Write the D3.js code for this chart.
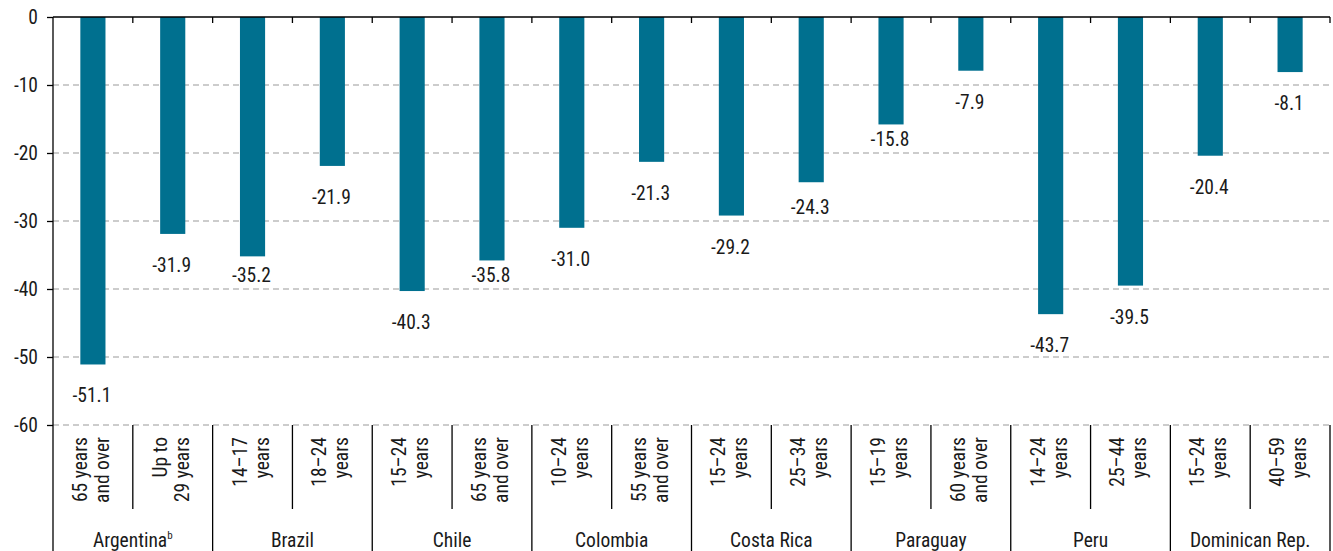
<!DOCTYPE html>
<html>
<head>
<meta charset="utf-8">
<script src="https://cdn.jsdelivr.net/npm/d3@7"></script>
<style>
  html, body { margin: 0; padding: 0; background: #fff; }
  svg text { font-family: "Roboto", "Liberation Sans", sans-serif; font-stretch: 75%; fill: #1a1a1a; }
</style>
</head>
<body>
<svg id="chart" width="1333" height="551"></svg>
<script>
const groups = ["Argentina", "Brazil", "Chile", "Colombia", "Costa Rica", "Paraguay", "Peru", "Dominican Rep."];
const groupNotes = ["b", "", "", "", "", "", "", ""];
const categories = [
  ["65 years", "and over"], ["Up to", "29 years"],
  ["14–17", "years"], ["18–24", "years"],
  ["15–24", "years"], ["65 years", "and over"],
  ["10–24", "years"], ["55 years", "and over"],
  ["15–24", "years"], ["25–34", "years"],
  ["15–19", "years"], ["60 years", "and over"],
  ["14–24", "years"], ["25–44", "years"],
  ["15–24", "years"], ["40–59", "years"]
];
const values = [-51.1, -31.9, -35.2, -21.9, -40.3, -35.8, -31.0, -21.3, -29.2, -24.3, -15.8, -7.9, -43.7, -39.5, -20.4, -8.1];
const yTicks = [0, -10, -20, -30, -40, -50, -60];

(function () {
const svg = d3.select("#chart");
const mLeft = 53, mRight = 1330, mTop = 17, mBottom = 425;
const fs = 19.5;
const fmt = v => (v < 0 ? "-" : "") + Math.abs(v).toFixed(1);
const fmtTick = v => (v < 0 ? "-" : "") + Math.abs(v);

const idx = d3.range(values.length);
const x = d3.scaleBand().domain(idx).range([mLeft, mRight]).paddingInner(0.685).paddingOuter(0.3425);
const slot = d3.scaleBand().domain(idx).range([mLeft, mRight]).padding(0);
const gx = d3.scaleBand().domain(d3.range(groups.length)).range([mLeft, mRight]).padding(0);
const y = d3.scaleLinear().domain([-60, 0]).range([mBottom, mTop]);

// gridlines
const gridVals = yTicks.filter(t => t !== 0);
svg.append("g").selectAll("line").data(gridVals).join("line")
  .attr("x1", mLeft).attr("x2", mRight)
  .attr("y1", d => y(d)).attr("y2", d => y(d))
  .attr("stroke", "#9a9a9a").attr("stroke-width", 1.2).attr("stroke-dasharray", "6,4");

// bars
svg.append("g").selectAll("rect").data(idx).join("rect")
  .attr("x", i => x(i)).attr("width", x.bandwidth())
  .attr("y", y(0)).attr("height", i => y(values[i]) - y(0))
  .attr("fill", "#00708f");

// value labels: placed below bar end, nudged up when they would cross a gridline
function labelY(v) {
  let b = y(v) + 38;
  for (const g of gridVals) {
    const gy = y(g);
    if (gy > b - 15 && gy < b + 3) b = gy - 7;
  }
  return b;
}
svg.append("g").selectAll("text").data(idx).join("text")
  .attr("x", i => x(i) + x.bandwidth() / 2 - 1)
  .attr("y", i => labelY(values[i]))
  .attr("text-anchor", "middle").attr("font-size", fs)
  .text(i => fmt(values[i]));

// y axis
const yAxis = svg.append("g").attr("transform", `translate(${mLeft},0)`)
  .call(d3.axisLeft(y).tickValues(yTicks).tickFormat(fmtTick).tickSize(6).tickPadding(9));
yAxis.select(".domain").remove();
yAxis.selectAll("line").attr("stroke", "#000").attr("stroke-width", 1.3);
yAxis.selectAll("text").attr("font-size", fs).attr("fill", "#1a1a1a")
  .style("font-family", '"Roboto", "Liberation Sans", sans-serif').style("font-stretch", "75%");
svg.append("line").attr("x1", mLeft).attr("x2", mLeft).attr("y1", mTop).attr("y2", 551)
  .attr("stroke", "#000").attr("stroke-width", 1.3);

// top zero axis with ticks at slot boundaries
svg.append("line").attr("x1", mLeft).attr("x2", mRight).attr("y1", y(0)).attr("y2", y(0))
  .attr("stroke", "#000").attr("stroke-width", 1.3);
svg.append("g").selectAll("line").data(d3.range(1, values.length + 1)).join("line")
  .attr("x1", i => slot(i - 1) + slot.bandwidth()).attr("x2", i => slot(i - 1) + slot.bandwidth())
  .attr("y1", y(0)).attr("y2", y(0) + 6)
  .attr("stroke", "#000").attr("stroke-width", 1.3);

// sub separators (within groups)
svg.append("g").selectAll("line").data(idx.filter(i => i % 2 === 1)).join("line")
  .attr("x1", i => slot(i)).attr("x2", i => slot(i))
  .attr("y1", mBottom).attr("y2", 509)
  .attr("stroke", "#000").attr("stroke-width", 1.3);
// group separators
svg.append("g").selectAll("line").data(d3.range(1, groups.length + 1)).join("line")
  .attr("x1", g => g < groups.length ? gx(g) : mRight).attr("x2", g => g < groups.length ? gx(g) : mRight)
  .attr("y1", mBottom).attr("y2", 551)
  .attr("stroke", "#000").attr("stroke-width", 1.3);

// category labels (rotated, two lines)
const cat = svg.append("g").selectAll("text").data(idx).join("text")
  .attr("transform", i => `translate(${slot(i) + slot.bandwidth() / 2},437) rotate(-90)`)
  .attr("text-anchor", "end").attr("font-size", fs);
cat.append("tspan").attr("x", 0).attr("y", -6).text(i => categories[i][0]);
cat.append("tspan").attr("x", 0).attr("y", 16).text(i => categories[i][1]);

// group labels
const gl = svg.append("g").selectAll("text").data(d3.range(groups.length)).join("text")
  .attr("x", g => gx(g) + gx.bandwidth() / 2).attr("y", 547)
  .attr("text-anchor", "middle").attr("font-size", fs);
gl.append("tspan").text(g => groups[g]);
gl.append("tspan").attr("font-size", 11).attr("dy", -8).text(g => groupNotes[g]);
})();
</script>
</body>
</html>
